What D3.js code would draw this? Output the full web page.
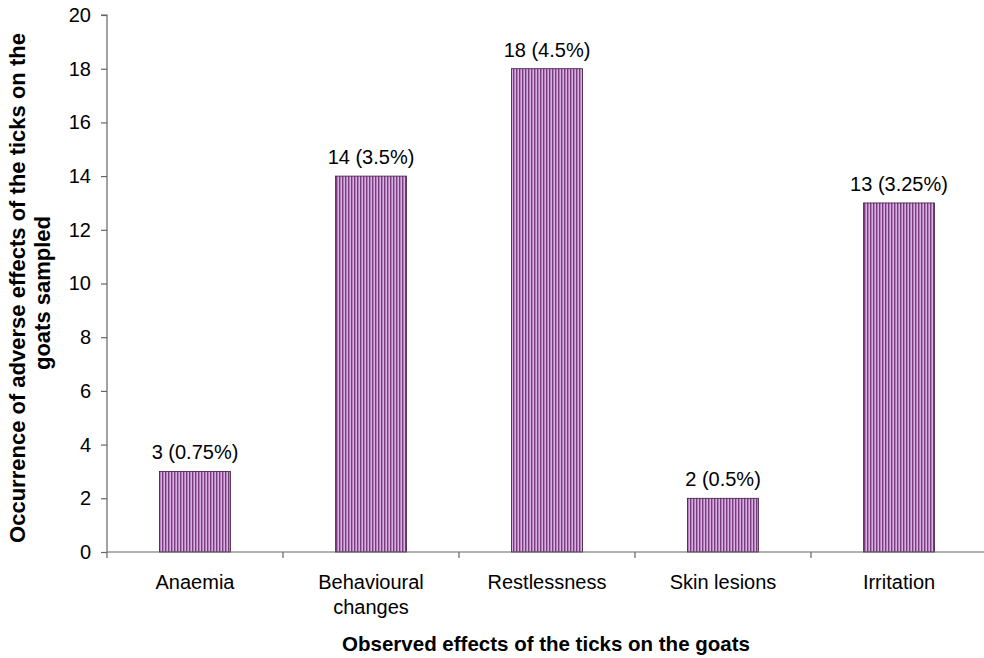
<!DOCTYPE html>
<html>
<head>
<meta charset="utf-8">
<script src="https://cdn.jsdelivr.net/npm/d3@7"></script>
<style>
  body { margin: 0; background: #fff; }
  svg { font-family: Arial, "Liberation Sans", sans-serif; }
</style>
</head>
<body>
<svg id="chart" width="984" height="658"></svg>
<script>
// Observed adverse effects of ticks on sampled goats
const categories = ["Anaemia", "Behavioural changes", "Restlessness", "Skin lesions", "Irritation"];
const counts = [3, 14, 18, 2, 13];
const percents = ["0.75%", "3.5%", "4.5%", "0.5%", "3.25%"];
const yTicks = [0, 2, 4, 6, 8, 10, 12, 14, 16, 18, 20];

const svg = d3.select("#chart");
const margin = { left: 107, right: 0, top: 15, bottom: 106 };
const W = 984, H = 658;
const FONT = 20;

const x = d3.scaleBand().domain(categories).range([margin.left, W - margin.right + 3]).padding(0);
const y = d3.scaleLinear().domain([0, 20]).range([H - margin.bottom, margin.top]);

// Vertical stripe fill for bars
const defs = svg.append("defs");
const pat = defs.append("pattern")
  .attr("id", "stripes")
  .attr("patternUnits", "userSpaceOnUse")
  .attr("width", 3).attr("height", 10);
pat.append("rect").attr("width", 3).attr("height", 10).attr("fill", "#d8b0e2");
pat.append("rect").attr("width", 1.4).attr("height", 10).attr("fill", "#7a3a80");

const barW = x.bandwidth() * 0.404;

svg.append("g").selectAll("rect")
  .data(categories)
  .join("rect")
  .attr("x", d => x(d) + (x.bandwidth() - barW) / 2)
  .attr("y", (d, i) => y(counts[i]))
  .attr("width", barW)
  .attr("height", (d, i) => y(0) - y(counts[i]))
  .attr("fill", "url(#stripes)")
  .attr("stroke", "#3a1a3a")
  .attr("stroke-width", 0.8);

// Value labels
svg.append("g").selectAll("text")
  .data(categories)
  .join("text")
  .attr("x", d => x(d) + x.bandwidth() / 2)
  .attr("y", (d, i) => y(counts[i]) - 12)
  .attr("text-anchor", "middle")
  .attr("font-size", FONT)
  .attr("fill", "#000")
  .text((d, i) => `${counts[i]} (${percents[i]})`);

// Y axis
const yAxis = svg.append("g")
  .attr("transform", `translate(${margin.left},0)`)
  .call(d3.axisLeft(y).tickValues(yTicks).tickSize(6).tickPadding(10).tickFormat(d3.format("d")));
yAxis.selectAll("path, line").attr("stroke", "#666").attr("stroke-width", 1.2);
yAxis.select(".domain").attr("d", `M-6,${y(20)}H0V${y(0)}`);
yAxis.selectAll("text").attr("font-size", FONT).attr("fill", "#000").attr("font-family", "Arial, 'Liberation Sans', sans-serif");

// X axis with ticks on category boundaries
const xg = svg.append("g").attr("transform", `translate(0,${y(0)})`);
xg.append("line").attr("x1", margin.left).attr("x2", W).attr("y1", 0).attr("y2", 0)
  .attr("stroke", "#666").attr("stroke-width", 1.2);
const bounds = categories.map(c => x(c));
xg.selectAll("line.tick").data(bounds).join("line")
  .attr("class", "tick")
  .attr("x1", d => d).attr("x2", d => d).attr("y1", 0).attr("y2", 6)
  .attr("stroke", "#666").attr("stroke-width", 1.2);

// Category labels (long label wrapped onto two lines)
const labelLines = {
  "Behavioural changes": ["Behavioural", "changes"]
};
categories.forEach(c => {
  const lines = labelLines[c] || [c];
  const cx = x(c) + x.bandwidth() / 2;
  const t = svg.append("text")
    .attr("x", cx)
    .attr("y", y(0) + 37)
    .attr("text-anchor", "middle")
    .attr("font-size", FONT)
    .attr("fill", "#000");
  lines.forEach((l, i) => {
    t.append("tspan").attr("x", cx).attr("dy", i === 0 ? 0 : 25).text(l);
  });
});

// Axis titles
svg.append("text")
  .attr("x", 546)
  .attr("y", 651)
  .attr("text-anchor", "middle")
  .attr("font-size", 20.5)
  .attr("font-weight", "bold")
  .text("Observed effects of the ticks on the goats");

const yt = svg.append("text")
  .attr("transform", `translate(25,${288}) rotate(-90)`)
  .attr("text-anchor", "middle")
  .attr("font-size", 22)
  .attr("font-weight", "bold");
yt.append("tspan").attr("x", 0).attr("dy", 0).text("Occurrence of adverse effects of the ticks on the");
yt.append("tspan").attr("x", -5).attr("dy", 25).text("goats sampled");
</script>
</body>
</html>
